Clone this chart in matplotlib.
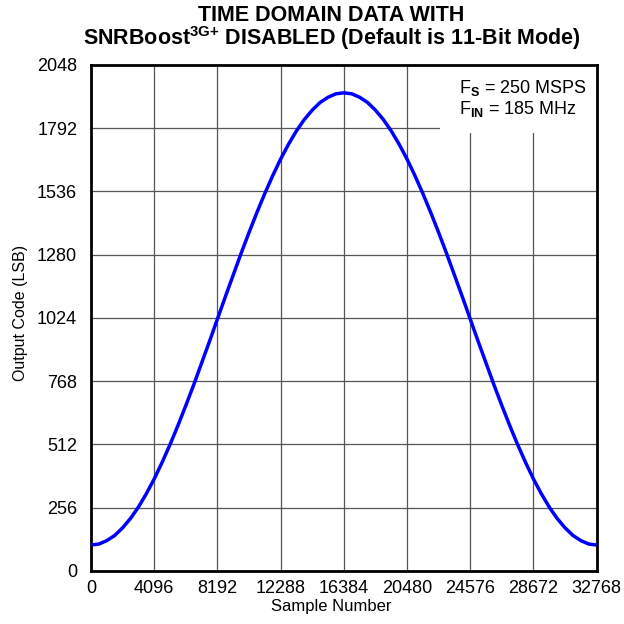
import numpy as np
import matplotlib
matplotlib.use('Agg')
import matplotlib.pyplot as plt
from matplotlib.patches import Rectangle

# output code every 512 samples
sample = [512 * k for k in range(65)]
rise = [105, 109, 123, 144, 175, 213, 259, 313, 373, 440, 512, 589, 670, 754, 842, 930,
        1020, 1110, 1198, 1286, 1370, 1451, 1528, 1600, 1667, 1727, 1781, 1827, 1865, 1896, 1917, 1931]
peak = [1935]
code = rise + peak + rise[::-1]

xticks = [0, 4096, 8192, 12288, 16384, 20480, 24576, 28672, 32768]
yticks = [0, 256, 512, 768, 1024, 1280, 1536, 1792, 2048]

plt.rcParams['font.family'] = ['Liberation Sans', 'DejaVu Sans']
plt.rcParams['mathtext.fontset'] = 'custom'
plt.rcParams['mathtext.rm'] = 'Liberation Sans'
plt.rcParams['mathtext.bf'] = 'Liberation Sans:bold'


def plot():
    fig = plt.figure(figsize=(6.24, 6.24), dpi=100)
    ax = fig.add_axes([0.146, 0.085, 0.810, 0.811])

    ax.plot(sample, code, color='#0000ff', lw=2.5, zorder=3,
            solid_joinstyle='round', solid_capstyle='butt')

    ax.set_xlim(0, 32768)
    ax.set_ylim(0, 2048)
    ax.set_xticks(xticks)
    ax.set_yticks(yticks)
    ax.tick_params(length=0, labelsize=13)
    ax.tick_params(axis='x', pad=6.5)
    ax.tick_params(axis='y', pad=10)
    ax.grid(True, color='#555555', lw=0.9)
    ax.set_axisbelow(True)
    for s in ax.spines.values():
        s.set_linewidth(2)

    # white box behind the conditions text hides the grid
    ax.add_patch(Rectangle((0.69, 0.866), 0.31, 0.134, transform=ax.transAxes,
                           facecolor='white', edgecolor='none', zorder=2))
    ax.text(0.727, 0.9447, r'F$_\mathbf{S}$ = 250 MSPS', transform=ax.transAxes,
            fontsize=13, va='baseline', ha='left', zorder=4)
    ax.text(0.727, 0.9032, r'F$_\mathbf{IN}$ = 185 MHz', transform=ax.transAxes,
            fontsize=13, va='baseline', ha='left', zorder=4)

    ax.set_xlabel('Sample Number', fontsize=12)
    ax.xaxis.set_label_coords(0.476, -0.056)
    ax.set_ylabel('Output Code (LSB)', fontsize=11.5)
    ax.yaxis.set_label_coords(-0.125, 0.51)

    fig.text(0.531, 0.9663, 'TIME DOMAIN DATA WITH', ha='center', va='baseline',
             fontsize=15.5, fontweight='bold')
    fig.text(0.531, 0.9279, 'SNRBoost$^{\\mathbf{3G{+}}}$ DISABLED (Default is 11-Bit Mode)',
             ha='center', va='baseline', fontsize=15.5, fontweight='bold')

    fig.savefig('out.png', dpi=100)


def main():
    plot()


if __name__ == "__main__":
    main()
